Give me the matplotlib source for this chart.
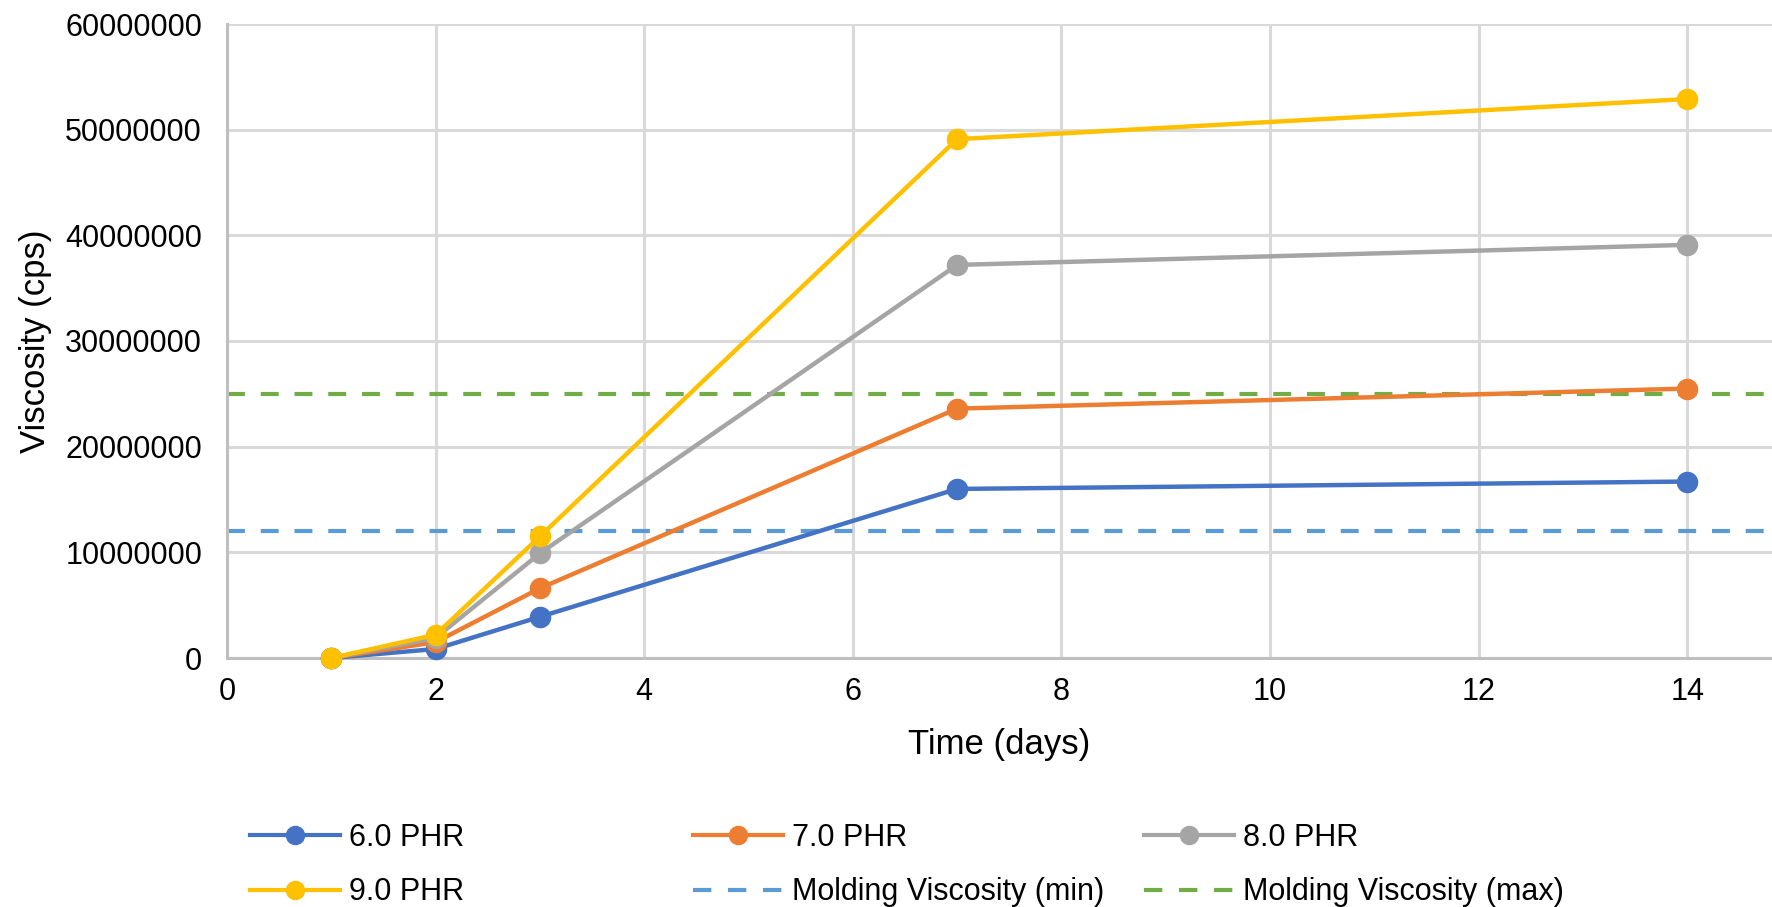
import matplotlib.pyplot as plt
from matplotlib.ticker import FuncFormatter
from matplotlib.lines import Line2D

plt.rcParams['font.family'] = ['Liberation Sans', 'DejaVu Sans']

# data
days = [1, 2, 3, 7, 14]
phr_6 = [0, 850000, 3900000, 16000000, 16700000]
phr_7 = [0, 1500000, 6600000, 23600000, 25500000]
phr_8 = [0, 1900000, 9900000, 37200000, 39100000]
phr_9 = [0, 2200000, 11500000, 49100000, 52900000]
visc_min = 12000000
visc_max = 25000000

series = [
    ('6.0 PHR', phr_6, '#4472C4'),
    ('7.0 PHR', phr_7, '#ED7D31'),
    ('8.0 PHR', phr_8, '#A5A5A5'),
    ('9.0 PHR', phr_9, '#FFC000'),
]

W, H = 1772, 907
fig = plt.figure(figsize=(W / 100, H / 100), dpi=100)
ax = fig.add_axes([227 / W, (H - 658) / H, 1 - 227 / W, (658 - 24) / H])

ax.axhline(visc_min, color='#5B9BD5', lw=3, dashes=(4.3, 3.8), zorder=2)
ax.axhline(visc_max, color='#70AD47', lw=3, dashes=(4.3, 3.8), zorder=2)

for label, vals, col in series:
    ax.plot(days, vals, color=col, lw=3.2, marker='o', markersize=14.5,
            label=label, zorder=3, clip_on=False)

ax.set_xlim(0, (W - 227) / 104.3)
ax.set_ylim(0, 60000000)
ax.set_xticks(range(0, 15, 2))
ax.set_yticks(range(0, 60000001, 10000000))
ax.yaxis.set_major_formatter(FuncFormatter(lambda v, p: '%d' % v))

ax.grid(True, color='#D9D9D9', lw=2.2)
ax.set_axisbelow(True)
for s in ['top', 'right']:
    ax.spines[s].set_visible(False)
for s in ['left', 'bottom']:
    ax.spines[s].set_color('#BFBFBF')
    ax.spines[s].set_linewidth(2.2)
ax.tick_params(length=0, labelsize=22, colors='black')
ax.tick_params(axis='y', pad=18)
ax.tick_params(axis='x', pad=14)

ax.set_xlabel('Time (days)', fontsize=25, labelpad=15)
ax.set_ylabel('Viscosity (cps)', fontsize=25)
ax.yaxis.set_label_coords(-(227 - 52) / (W - 227), 0.5)

# legend laid out in three fixed columns like the original
def handle(col, dashed=False):
    if dashed:
        return Line2D([], [], color=col, lw=3, dashes=(4.4, 4.0))
    return Line2D([], [], color=col, lw=3, marker='o', markersize=13)

cols = [
    (250, [(handle('#4472C4'), '6.0 PHR'), (handle('#FFC000'), '9.0 PHR')]),
    (693, [(handle('#ED7D31'), '7.0 PHR'),
           (handle('#5B9BD5', True), 'Molding Viscosity (min)')]),
    (1144, [(handle('#A5A5A5'), '8.0 PHR'),
            (handle('#70AD47', True), 'Molding Viscosity (max)')]),
]
for x, entries in cols:
    fig.legend([e[0] for e in entries], [e[1] for e in entries],
               loc='center left', bbox_to_anchor=(x / W, (H - 865) / H),
               frameon=False, fontsize=22, handlelength=2.95,
               handletextpad=0.3, labelspacing=0.8,
               borderpad=0, borderaxespad=0)

fig.savefig('out.png', dpi=100)
